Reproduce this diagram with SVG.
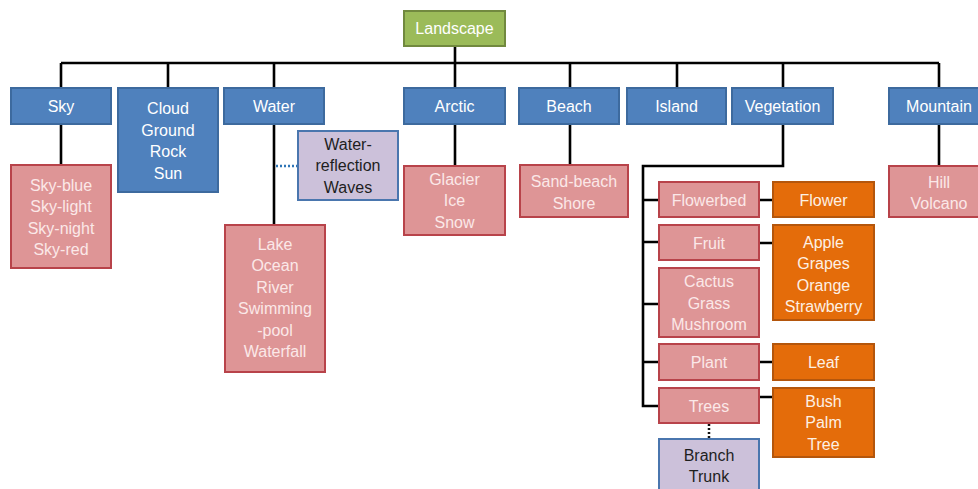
<svg xmlns="http://www.w3.org/2000/svg" width="978" height="489" viewBox="0 0 978 489">
<style>
text{font-family:"Liberation Sans",Arial,sans-serif;font-size:16px;text-anchor:middle}
.g{fill:#9BBB59;stroke:#71893F;stroke-width:2}
.b{fill:#4F81BD;stroke:#3D6A9E;stroke-width:2}
.p{fill:#DE9596;stroke:#B8434A;stroke-width:2}
.o{fill:#E46C0A;stroke:#B4560C;stroke-width:2}
.l{fill:#CCC1DA;stroke:#4A76AE;stroke-width:2}
.tw{fill:#FFFFFF}
.tp{fill:#FBE8E8}
.to{fill:#FDF0E4}
.td{fill:#1E1E1E}
.c{fill:none;stroke:#000;stroke-width:2.6}
.d{fill:none;stroke:#2E75B6;stroke-width:2.5;stroke-dasharray:2 2}
.dk{fill:none;stroke:#111;stroke-width:2.5;stroke-dasharray:2 2}
</style>
<rect width="978" height="489" fill="#fff"/>
<g id="connectors">
<path class="c" d="M455 46V63M61 63H939M61 63V88M168 63V88M274 63V88M455 63V88M570 63V88M677 63V88M783 63V88M939 63V88"/>
<path class="c" d="M61 124V165M274 124V225M455 124V166M570 124V165M939 124V166"/>
<path class="c" d="M783 124V166H643V406H659M643 200H659M643 242H659M643 304H659M643 362H659"/>
<path class="c" d="M759 200H773M759 243H773M759 362H773M759 397H773"/>
<path class="d" d="M276 166H298"/>
<path class="dk" d="M709 424V439"/>
</g>
<g id="landscape"><rect class="g" x="404" y="11" width="101" height="35"/><text class="tw" x="454.5" y="34">Landscape</text></g>
<g id="sky"><rect class="b" x="11" y="88" width="100" height="36"/><text class="tw" x="61" y="111.5">Sky</text></g>
<g id="cloud"><rect class="b" x="118" y="88" width="100" height="104"/><text class="tw" x="168"><tspan x="168" y="114">Cloud</tspan><tspan x="168" y="135.5">Ground</tspan><tspan x="168" y="157">Rock</tspan><tspan x="168" y="178.5">Sun</tspan></text></g>
<g id="water"><rect class="b" x="224" y="88" width="100" height="36"/><text class="tw" x="274" y="111.5">Water</text></g>
<g id="arctic"><rect class="b" x="404" y="88" width="101" height="36"/><text class="tw" x="454.5" y="111.5">Arctic</text></g>
<g id="beach"><rect class="b" x="519" y="88" width="100" height="36"/><text class="tw" x="569" y="111.5">Beach</text></g>
<g id="island"><rect class="b" x="627" y="88" width="99" height="36"/><text class="tw" x="676.5" y="111.5">Island</text></g>
<g id="vegetation"><rect class="b" x="732" y="88" width="101" height="36"/><text class="tw" x="782.5" y="111.5">Vegetation</text></g>
<g id="mountain"><rect class="b" x="889" y="88" width="100" height="36"/><text class="tw" x="939" y="111.5">Mountain</text></g>
<g id="sky-list"><rect class="p" x="11" y="165" width="100" height="103"/><text class="tp"><tspan x="61" y="190.5">Sky-blue</tspan><tspan x="61" y="212">Sky-light</tspan><tspan x="61" y="233.5">Sky-night</tspan><tspan x="61" y="255">Sky-red</tspan></text></g>
<g id="water-reflection"><rect class="l" x="298" y="131" width="100" height="69"/><text class="td"><tspan x="348" y="149.5">Water-</tspan><tspan x="348" y="171">reflection</tspan><tspan x="348" y="192.5">Waves</tspan></text></g>
<g id="water-list"><rect class="p" x="225" y="225" width="100" height="147"/><text class="tp"><tspan x="275" y="249.5">Lake</tspan><tspan x="275" y="271">Ocean</tspan><tspan x="275" y="292.5">River</tspan><tspan x="275" y="314">Swimming</tspan><tspan x="275" y="335.5">-pool</tspan><tspan x="275" y="357">Waterfall</tspan></text></g>
<g id="arctic-list"><rect class="p" x="404" y="166" width="101" height="69"/><text class="tp"><tspan x="454.5" y="184.5">Glacier</tspan><tspan x="454.5" y="206">Ice</tspan><tspan x="454.5" y="227.5">Snow</tspan></text></g>
<g id="beach-list"><rect class="p" x="520" y="165" width="108" height="52"/><text class="tp"><tspan x="574" y="187">Sand-beach</tspan><tspan x="574" y="208.5">Shore</tspan></text></g>
<g id="mountain-list"><rect class="p" x="889" y="166" width="100" height="51"/><text class="tp"><tspan x="939" y="187.5">Hill</tspan><tspan x="939" y="209">Volcano</tspan></text></g>
<g id="flowerbed"><rect class="p" x="659" y="182" width="100" height="35"/><text class="tp" x="709" y="205.5">Flowerbed</text></g>
<g id="flower"><rect class="o" x="773" y="182" width="101" height="35"/><text class="to" x="823.5" y="205.5">Flower</text></g>
<g id="fruit"><rect class="p" x="659" y="225" width="100" height="35"/><text class="tp" x="709" y="248.5">Fruit</text></g>
<g id="fruit-list"><rect class="o" x="773" y="225" width="101" height="95"/><text class="to"><tspan x="823.5" y="247.5">Apple</tspan><tspan x="823.5" y="269">Grapes</tspan><tspan x="823.5" y="290.5">Orange</tspan><tspan x="823.5" y="312">Strawberry</tspan></text></g>
<g id="cactus"><rect class="p" x="659" y="268" width="100" height="69"/><text class="tp"><tspan x="709" y="287">Cactus</tspan><tspan x="709" y="308.5">Grass</tspan><tspan x="709" y="330">Mushroom</tspan></text></g>
<g id="plant"><rect class="p" x="659" y="344" width="100" height="36"/><text class="tp" x="709" y="367.5">Plant</text></g>
<g id="leaf"><rect class="o" x="773" y="344" width="101" height="36"/><text class="to" x="823.5" y="367.5">Leaf</text></g>
<g id="trees"><rect class="p" x="659" y="388" width="100" height="35"/><text class="tp" x="709" y="411.5">Trees</text></g>
<g id="trees-list"><rect class="o" x="773" y="388" width="101" height="69"/><text class="to"><tspan x="823.5" y="406.5">Bush</tspan><tspan x="823.5" y="428">Palm</tspan><tspan x="823.5" y="449.5">Tree</tspan></text></g>
<g id="branch-trunk"><rect class="l" x="659" y="439" width="100" height="60"/><text class="td"><tspan x="709" y="460.5">Branch</tspan><tspan x="709" y="482">Trunk</tspan></text></g>
</svg>
